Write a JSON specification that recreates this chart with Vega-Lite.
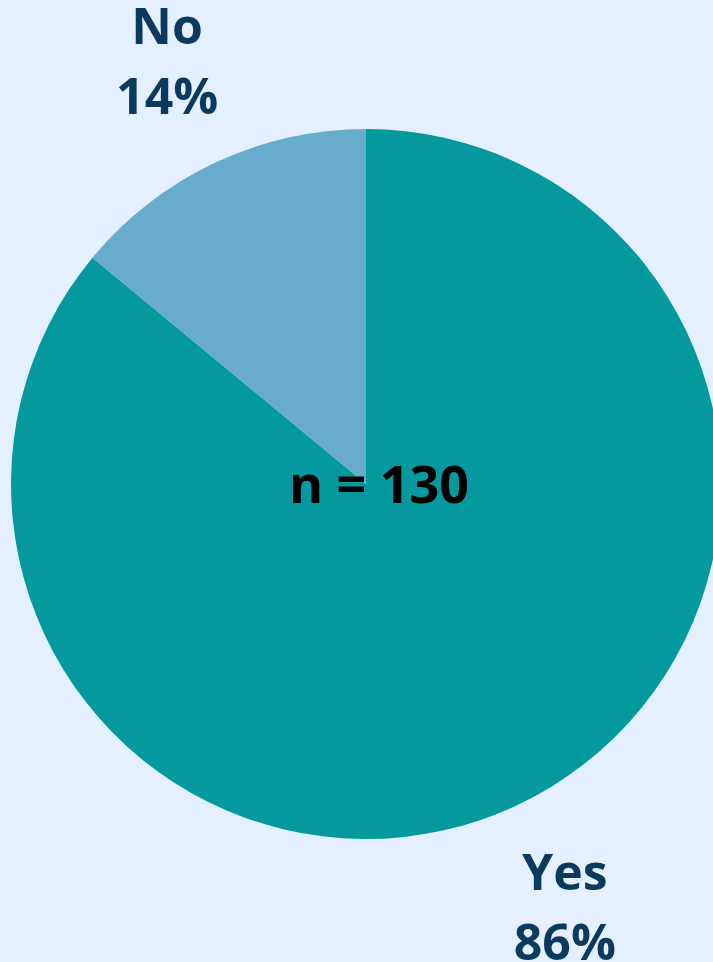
{
  "$schema": "https://vega.github.io/schema/vega-lite/v6.json",
  "width": 710,
  "height": 710,
  "padding": {"left": 11, "top": 129, "right": 0, "bottom": 123},
  "autosize": {"type": "none"},
  "background": "#E4F0FF",
  "config": {"view": {"stroke": null}, "font": "Open Sans"},
  "data": {
    "values": [
      {"answer": "Yes", "share": 0.86},
      {"answer": "No", "share": 0.14}
    ]
  },
  "encoding": {
    "theta": {"field": "share", "type": "quantitative", "stack": true},
    "order": {"field": "answer", "sort": "descending"}
  },
  "layer": [
    {
      "mark": {"type": "arc", "outerRadius": 355},
      "encoding": {
        "color": {
          "field": "answer",
          "type": "nominal",
          "scale": {"domain": ["Yes", "No"], "range": ["#04999E", "#67ADCB"]},
          "legend": null
        }
      }
    },
    {
      "mark": {"type": "text", "radius": 467, "dy": -32, "fontSize": 50, "fontWeight": "bold", "color": "#0B3A5E", "baseline": "middle"},
      "encoding": {"text": {"field": "answer"}}
    },
    {
      "mark": {"type": "text", "radius": 467, "dy": 38, "fontSize": 50, "fontWeight": "bold", "color": "#0B3A5E", "baseline": "middle"},
      "encoding": {"text": {"field": "share", "type": "quantitative", "format": ".0%"}}
    },
    {
      "data": {"values": [{"caption": "n = 130"}]},
      "mark": {"type": "text", "fontSize": 52, "fontWeight": "bold", "color": "#000000", "baseline": "middle", "dx": 13, "dy": 3},
      "encoding": {"text": {"field": "caption"}, "theta": null, "order": null}
    }
  ]
}
